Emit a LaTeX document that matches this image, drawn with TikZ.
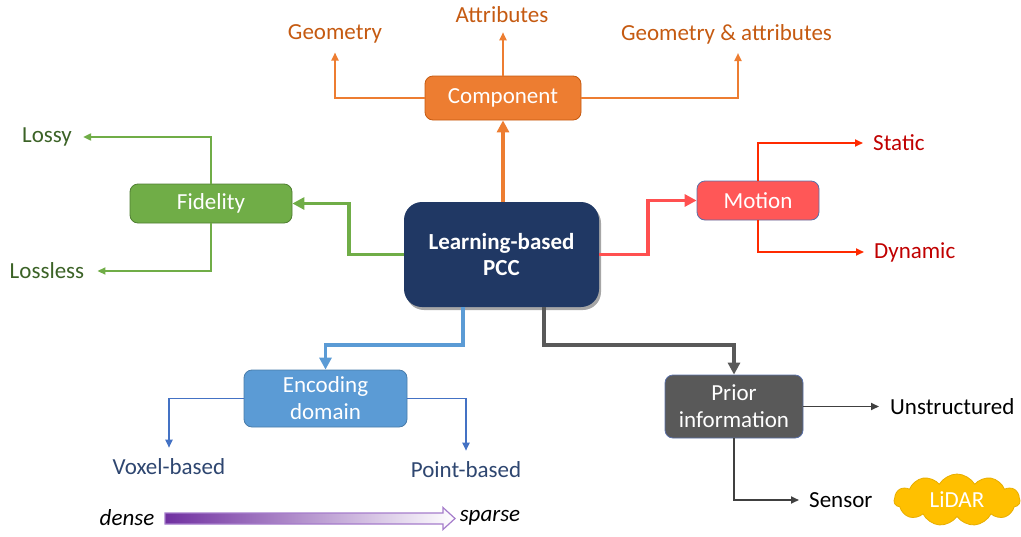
\documentclass[tikz,border=0pt]{standalone}
\usepackage{fontspec}
\setmainfont{Carlito}
\usetikzlibrary{arrows.meta,shapes.symbols,shadows,calc}
\definecolor{cnavy}{HTML}{203864}
\definecolor{corange}{HTML}{ED7D31}
\definecolor{corangeD}{HTML}{C55A11}
\definecolor{corangeT}{HTML}{C55A11}
\definecolor{cgreen}{HTML}{70AD47}
\definecolor{cgreenD}{HTML}{507E32}
\definecolor{cgreenT}{HTML}{3B6226}
\definecolor{cred}{HTML}{FF5757}
\definecolor{credL}{HTML}{FF5050}
\definecolor{credA}{HTML}{FF2A00}
\definecolor{credT}{HTML}{C00000}
\definecolor{cblue}{HTML}{5B9BD5}
\definecolor{cblueA}{HTML}{4472C4}
\definecolor{cblueT}{HTML}{2E4670}
\definecolor{cgray}{HTML}{595959}
\definecolor{cgrayA}{HTML}{404040}
\definecolor{cborder}{HTML}{5A70A8}
\definecolor{cyel}{HTML}{FFC000}
\definecolor{cyelD}{HTML}{E8AE00}
\definecolor{cvio}{HTML}{7030A0}
\definecolor{cvioL}{HTML}{A57CCB}
\begin{document}
\begin{tikzpicture}[x=1pt,y=-1pt,
  font=\fontsize{23}{27}\selectfont,
  box/.style={rounded corners=8pt, inner sep=0pt, align=center, text=white, line width=0.8pt},
  lbl/.style={inner sep=0pt},
  thk/.style={line width=3.5pt, -{Triangle[length=12pt,width=12pt]}},
  thn/.style={line width=1.8pt, -{Triangle[length=8pt,width=7pt]}}]
\useasboundingbox (0,0) rectangle (1021,536);

% main nodes
\node[box, fill=cnavy, minimum width=195, minimum height=105, rounded corners=18pt,
  font=\fontsize{23}{26}\selectfont\bfseries,
  drop shadow={shadow xshift=2pt, shadow yshift=-3pt, opacity=0.35, fill=black}]
  (central) at (501.5,254.5) {Learning-based\\PCC};
\node[box, fill=corange, draw=corangeD, minimum width=156, minimum height=44] (comp) at (503,98) {Component};
\node[box, fill=cgreen, draw=cgreenD, minimum width=162, minimum height=39] (fid) at (211,203.5) {Fidelity};
\node[box, fill=cred, draw=cborder, minimum width=122, minimum height=39] (motion) at (758,200.5) {Motion};
\node[box, fill=cblue, draw=cblue!80!black, minimum width=163, minimum height=57] (enc) at (325.5,398.5) {Encoding\\domain};
\node[box, fill=cgray, draw=cborder, minimum width=138, minimum height=63] (prior) at (734,406.5) {Prior\\information};

% labels
\node[lbl, text=corangeT] (geom) at (335,34) {Geometry};
\node[lbl, text=corangeT] (attr) at (502,15) {Attributes};
\node[lbl, text=corangeT] (ga) at (726.5,34) {Geometry \& attributes};
\node[lbl, text=cgreenT] (lossy) at (47,137) {Lossy};
\node[lbl, text=cgreenT] (lossless) at (47,271) {Lossless};
\node[lbl, text=credT, anchor=west] (static) at (873,143) {Static};
\node[lbl, text=credT, anchor=west] (dynamic) at (874,252) {Dynamic};
\node[lbl, text=cblueT] (voxel) at (169,467) {Voxel-based};
\node[lbl, text=cblueT] (point) at (466,470) {Point-based};
\node[lbl, anchor=west] (unstr) at (890,406.5) {Unstructured};
\node[lbl, anchor=west] (sensor) at (809,500) {Sensor};
\node[cloud, cloud puffs=11, cloud puff arc=120, aspect=2.4, fill=cyel, draw=cyelD, line width=0.8pt,
  minimum width=126, minimum height=52, inner sep=0pt, text=white] (lidar) at (957,500) {LiDAR};
\node[lbl, font=\fontsize{23}{27}\selectfont\itshape] (dense) at (127,518) {dense};
\node[lbl, font=\fontsize{23}{27}\selectfont\itshape] (sparse) at (490,518) {sparse};

% gradient arrow
\shade[left color=cvio, middle color=cvio!45, right color=white]
  (165,513) -- (443,513) -- (443,507.5) -- (455,518.5) -- (443,529.5) -- (443,524) -- (165,524) -- cycle;
\draw[cvioL, line width=1.2pt, line join=miter]
  (165,513) -- (443,513) -- (443,507.5) -- (455,518.5) -- (443,529.5) -- (443,524) -- (165,524) -- cycle;

% thick connectors
\draw[thk, corange] (central.north -| comp.south) -- (comp.south);
\draw[thk, cgreen] (central.west) -- (349,254.5) |- (fid.east);
\draw[thk, credL] (central.east) -- (648,254.5) |- (motion.west);
\draw[thk, cblue] ([xshift=-38.5pt]central.south) -- (463,345) -| (enc.north);
\draw[thk, cgray] ([xshift=42.5pt]central.south) -- (544,345) -| (prior.north);

% thin connectors
\draw[thn, corange, shorten >=9pt] (comp.west) -| (geom.south);
\draw[thn, corange, shorten >=9pt] (comp.north) -- (comp.north |- attr.south);
\draw[thn, corange, shorten >=9pt] (comp.east) -| ([xshift=11.5pt]ga.south);
\draw[thn, cgreen, shorten >=11pt] (fid.north) |- (lossy.east);
\draw[thn, cgreen, shorten >=13pt] (fid.south) |- (lossless.east);
\draw[thn, credA, shorten >=10pt] (motion.north) |- (static.west);
\draw[thn, credA, shorten >=10pt] (motion.south) |- (dynamic.west);
\draw[thn, cblueA, shorten >=11pt] (enc.west) -| (voxel.north);
\draw[thn, cblueA, shorten >=11pt] (enc.east) -| (point.north);
\draw[thn, cgrayA, shorten >=11pt] (prior.east) -- (unstr.west);
\draw[thn, cgrayA, shorten >=10pt] (prior.south) |- (sensor.west);
\end{tikzpicture}
\end{document}
